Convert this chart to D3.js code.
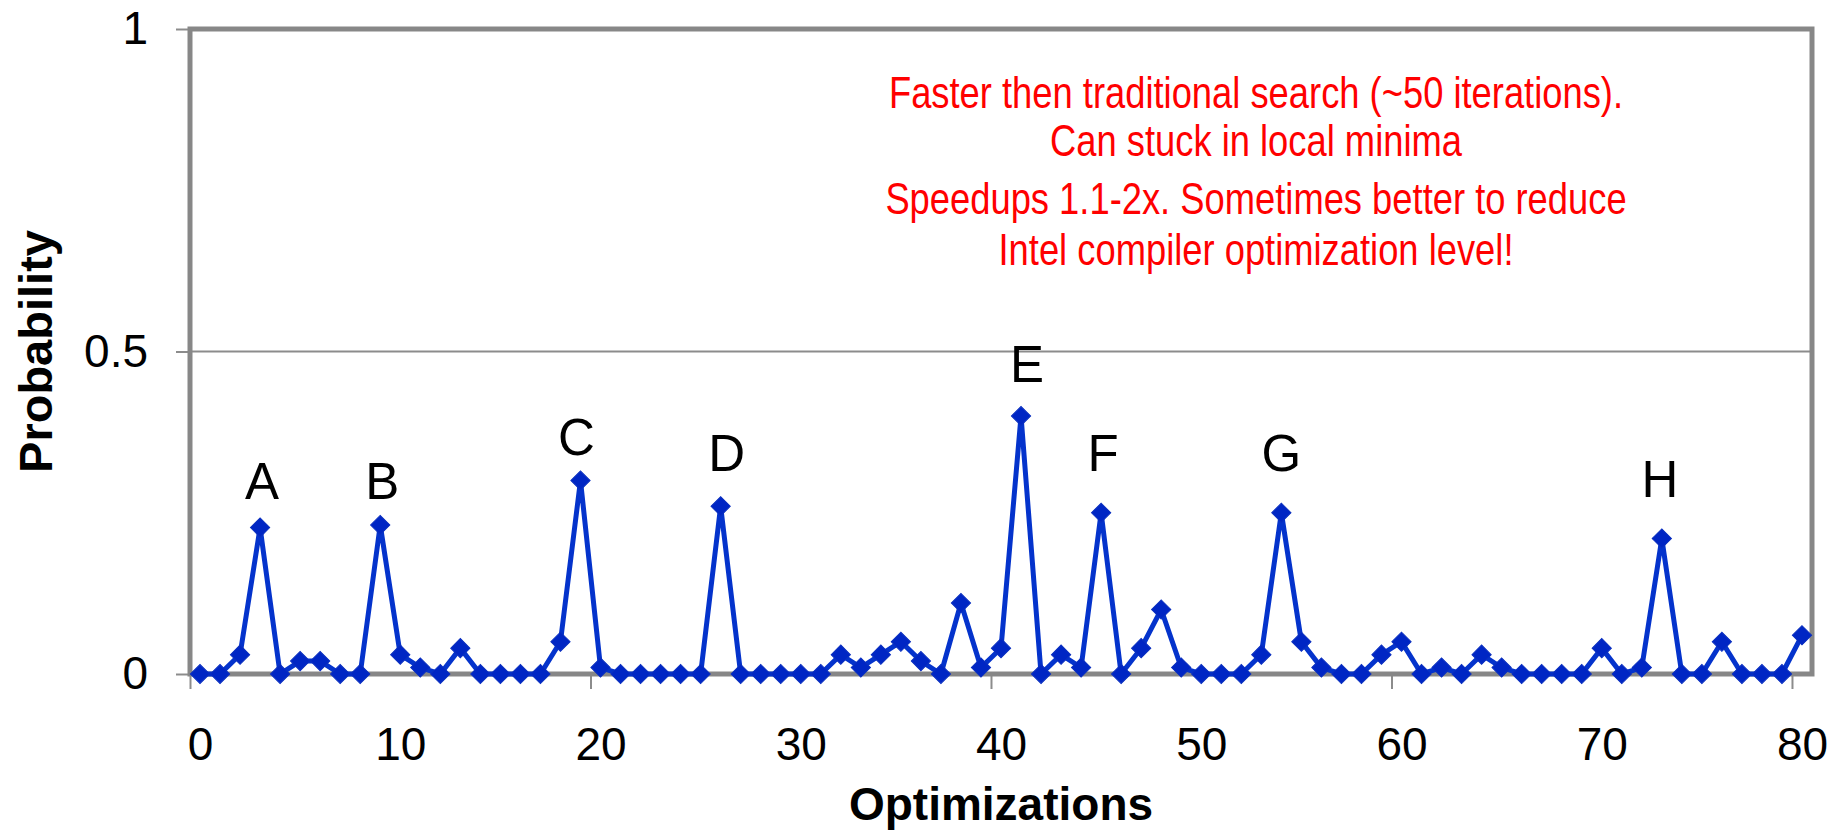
<!DOCTYPE html>
<html>
<head>
<meta charset="utf-8">
<script src="https://cdn.jsdelivr.net/npm/d3@7"></script>
<style>
  body { margin: 0; background: #fff; }
  text { font-family: "Liberation Sans", Arial, sans-serif; }
</style>
</head>
<body>
<div id="chart"></div>
<script>
// probability of each optimization (index = optimization number)
const probability = [
  0, 0, 0.03, 0.227, 0, 0.02, 0.02, 0, 0, 0.231,
  0.03, 0.01, 0, 0.04, 0, 0, 0, 0, 0.05, 0.30,
  0.01, 0, 0, 0, 0, 0, 0.26, 0, 0, 0,
  0, 0, 0.03, 0.01, 0.03, 0.05, 0.02, 0, 0.11, 0.01,
  0.04, 0.40, 0, 0.03, 0.01, 0.25, 0, 0.04, 0.10, 0.01,
  0, 0, 0, 0.03, 0.25, 0.05, 0.01, 0, 0, 0.03,
  0.05, 0, 0.01, 0, 0.03, 0.01, 0, 0, 0, 0,
  0.04, 0, 0.01, 0.21, 0, 0, 0.05, 0, 0, 0,
  0.06
]

const xTickLabels = [0, 10, 20, 30, 40, 50, 60, 70, 80]
const yTickValues = [0, 0.5, 1]

// peak labels, placed in data units (optimization, probability)
const peakNames = ["A", "B", "C", "D", "E", "F", "G", "H"]
const peakX = [3.1, 9.1, 18.8, 26.3, 41.3, 45.1, 54.0, 72.9]
const peakY = [0.272, 0.272, 0.340, 0.314, 0.453, 0.314, 0.314, 0.275]

const notes = [
  "Faster then traditional search (~50 iterations).",
  "Can stuck in local minima",
  "Speedups 1.1-2x. Sometimes better to reduce",
  "Intel compiler optimization level!"
]

function drawChart() {
  let dimensions = {
    width: 1837,
    height: 832,
    margin: { top: 29, right: 25, bottom: 158, left: 190 },
  }
  dimensions.boundedWidth = dimensions.width - dimensions.margin.left - dimensions.margin.right
  dimensions.boundedHeight = dimensions.height - dimensions.margin.top - dimensions.margin.bottom

  const svg = d3.select("#chart").append("svg")
    .attr("width", dimensions.width)
    .attr("height", dimensions.height)

  const bounds = svg.append("g")
    .attr("transform", `translate(${dimensions.margin.left},${dimensions.margin.top})`)

  const x = d3.scaleLinear()
    .domain([-0.5, probability.length - 0.5])
    .range([0, dimensions.boundedWidth])

  const y = d3.scaleLinear()
    .domain([0, 1])
    .range([dimensions.boundedHeight, 0])

  // gridline at 0.5
  bounds.append("line")
    .attr("x1", 0).attr("x2", dimensions.boundedWidth)
    .attr("y1", y(0.5)).attr("y2", y(0.5))
    .attr("stroke", "#8c8c8c").attr("stroke-width", 2)

  // y axis ticks and labels
  const yAxis = bounds.append("g")
    .call(d3.axisLeft(y).tickValues(yTickValues).tickSize(14).tickPadding(28)
      .tickFormat(d => d === 0.5 ? "0.5" : d3.format("d")(d)))
  yAxis.select(".domain").remove()
  yAxis.selectAll(".tick line").attr("stroke", "#8c8c8c").attr("stroke-width", 2)
  yAxis.selectAll("text").attr("font-size", 46).attr("fill", "#000")
    .style("font-family", '"Liberation Sans", Arial, sans-serif')

  // x tick marks every 20 categories, between categories
  const xMarks = bounds.append("g")
    .attr("transform", `translate(0,${dimensions.boundedHeight})`)
    .call(d3.axisBottom(x).tickValues([-0.5, 19.5, 39.5, 59.5, 79.5]).tickSize(15).tickFormat(""))
  xMarks.select(".domain").remove()
  xMarks.selectAll(".tick line").attr("stroke", "#8c8c8c").attr("stroke-width", 2)

  // x labels centered on categories
  const xLabels = bounds.append("g")
    .attr("transform", `translate(0,${dimensions.boundedHeight})`)
    .call(d3.axisBottom(x).tickValues(xTickLabels).tickSize(0).tickPadding(53))
  xLabels.select(".domain").remove()
  xLabels.selectAll("text").attr("font-size", 46).attr("fill", "#000")
    .style("font-family", '"Liberation Sans", Arial, sans-serif')

  // plot area border
  bounds.append("rect")
    .attr("x", 0).attr("y", 0)
    .attr("width", dimensions.boundedWidth)
    .attr("height", dimensions.boundedHeight)
    .attr("fill", "none")
    .attr("stroke", "#878787")
    .attr("stroke-width", 5)

  // line
  const line = d3.line()
    .x((d, i) => x(i))
    .y(d => y(d))

  bounds.append("path")
    .datum(probability)
    .attr("d", line)
    .attr("fill", "none")
    .attr("stroke", "#0433cc")
    .attr("stroke-width", 5)
    .attr("stroke-linejoin", "miter")

  // diamond markers
  const diamond = d3.symbol().type(d3.symbolSquare).size(185)
  bounds.selectAll(".marker")
    .data(probability)
    .enter()
    .append("path")
    .attr("class", "marker")
    .attr("d", diamond)
    .attr("transform", (d, i) => `translate(${x(i)},${y(d)}) rotate(45)`)
    .attr("fill", "#0026c4")
    .attr("stroke", "#0a2fbf")
    .attr("stroke-width", 1)

  // peak letters
  bounds.selectAll(".peak")
    .data(peakNames)
    .enter()
    .append("text")
    .attr("class", "peak")
    .attr("x", (d, i) => x(peakX[i]))
    .attr("y", (d, i) => y(peakY[i]))
    .attr("text-anchor", "middle")
    .attr("font-size", 51)
    .attr("fill", "#000")
    .text(d => d)

  // red notes (narrow letterforms, as in the original)
  const noteBaselines = [108, 156, 214, 265]
  const noteGroup = svg.append("g")
    .attr("transform", "translate(1256,0) scale(0.826,1)")
  noteGroup.selectAll(".note")
    .data(notes)
    .enter()
    .append("text")
    .attr("class", "note")
    .attr("x", 0)
    .attr("y", (d, i) => noteBaselines[i])
    .attr("text-anchor", "middle")
    .attr("font-size", 44)
    .attr("fill", "#ff0000")
    .text(d => d)

  // axis titles
  svg.append("text")
    .attr("x", dimensions.margin.left + dimensions.boundedWidth / 2)
    .attr("y", 820)
    .attr("text-anchor", "middle")
    .attr("font-size", 46)
    .attr("font-weight", "bold")
    .attr("fill", "#000")
    .text("Optimizations")

  svg.append("text")
    .attr("transform", `translate(52,${dimensions.margin.top + dimensions.boundedHeight / 2}) rotate(-90)`)
    .attr("text-anchor", "middle")
    .attr("font-size", 47)
    .attr("font-weight", "bold")
    .attr("fill", "#000")
    .text("Probability")
}

drawChart()
</script>
</body>
</html>
